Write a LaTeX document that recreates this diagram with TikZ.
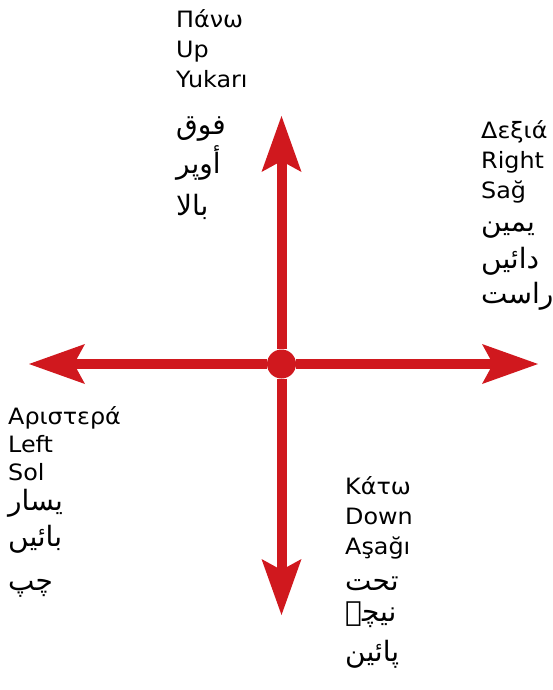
\documentclass[tikz,border=0pt]{standalone}
\usepackage{fontspec}
\usetikzlibrary{arrows.meta}
\TeXXeTstate=1
\newfontfamily\dirfont[FakeStretch=1.06]{DejaVu Sans}
\newfontfamily\arabicfont[Script=Arabic]{DejaVu Sans}
\definecolor{axisred}{RGB}{208,24,30}

\begin{document}
\begin{tikzpicture}[x=1pt,y=-1pt,
  >={Stealth[length=56pt,width=40pt,inset=11pt,line width=0pt]},
  axis/.style={->,color=axisred,line width=10pt},
  latin/.style={anchor=base west,inner sep=0pt,font=\dirfont\fontsize{22.5}{27}\selectfont},
  arab/.style={anchor=base west,inner sep=0pt,font=\arabicfont\fontsize{28}{33}\selectfont}]
\useasboundingbox (0,0) rectangle (552,690);

% axes
\node[circle,fill=axisred,minimum size=29pt,inner sep=0pt] (o) at (281.5,364) {};
\coordinate (n) at (281.5,116);
\coordinate (s) at (281.5,615);
\coordinate (w) at (29,364);
\coordinate (e) at (538,364);
\draw[axis] (o) -- (n);
\draw[axis] (o) -- (s);
\draw[axis] (o) -- (w);
\draw[axis] (o) -- (e);

% up
\foreach \t/\y [count=\i] in {Πάνω/28,Up/58,Yukarı/88}
  \node[latin] (up\i) at (176,\y) {\t};
\foreach \t/\y [count=\i] in {فوق/134,أوپر/173,بالا/215}
  \node[arab] (upar\i) at (176,\y) {\beginR\t\endR};

% right
\foreach \t/\y [count=\i] in {Δεξιά/139,Right/168,Sağ/198}
  \node[latin] (right\i) at (481,\y) {\t};
\foreach \t/\y [count=\i] in {يمين/231,دائیں/268,راست/303}
  \node[arab] (rightar\i) at (481,\y) {\beginR\t\endR};

% left
\foreach \t/\y [count=\i] in {Αριστερά/424,Left/452,Sol/480}
  \node[latin] (left\i) at (8,\y) {\t};
\foreach \t/\y [count=\i] in {يسار/510,بائیں/546,چپ/590}
  \node[arab] (leftar\i) at (8,\y) {\beginR\t\endR};

% down
\foreach \t/\y [count=\i] in {Κάτω/494,Down/524,Aşağı/554}
  \node[latin] (down\i) at (345,\y) {\t};
\foreach \t/\y [count=\i] in {تحت/590,نیچے/621,پائین/661}
  \node[arab] (downar\i) at (345,\y) {\beginR\t\endR};
\end{tikzpicture}
\end{document}
